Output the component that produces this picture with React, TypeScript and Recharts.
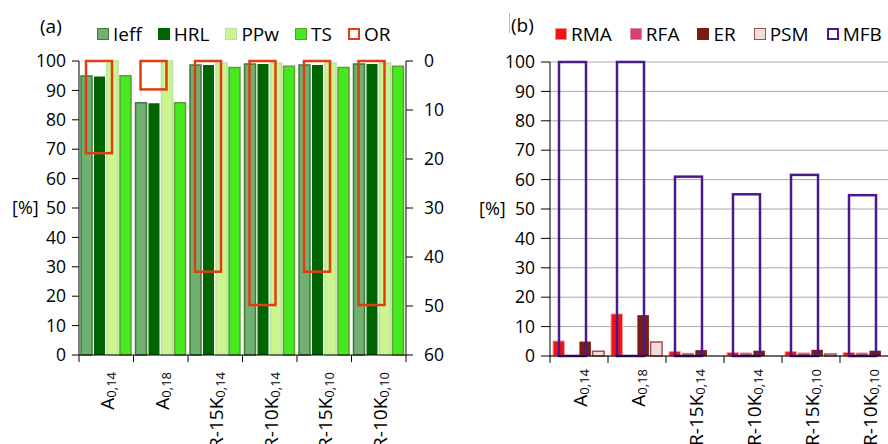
import React from 'react'
import { Bar, BarChart, CartesianGrid, XAxis, YAxis } from 'recharts'

// categories (base + subscript)
const categoryBase = ['A', 'A', 'R-15K', 'R-10K', 'R-15K', 'R-10K']
const categorySub = ['0,14', '0,18', '0,14', '0,14', '0,10', '0,10']

// (a) percentages on the left axis, OR on the reversed right axis
const ieff = [94.9, 85.8, 98.6, 99.0, 98.6, 99.0]
const hrl = [94.7, 85.6, 98.6, 99.0, 98.6, 99.0]
const ppw = [100, 100, 99.3, 99.3, 99.3, 99.3]
const ts = [95.0, 85.8, 97.8, 98.2, 97.8, 98.2]
const orValues = [18.8, 5.8, 43.0, 49.8, 43.0, 49.8]

// (b)
const rma = [5.1, 14.3, 1.5, 1.2, 1.5, 1.2]
const rfa = [0.2, 0.2, 0.9, 1.0, 1.0, 1.0]
const er = [4.9, 13.9, 2.0, 1.8, 2.1, 1.8]
const psm = [1.6, 4.8, 0, 0, 0.7, 0]
const mfb = [100, 100, 61.0, 55.0, 61.6, 54.7]

const pctTicks = [0, 10, 20, 30, 40, 50, 60, 70, 80, 90, 100]
const orTicks = [0, 10, 20, 30, 40, 50, 60]

const names = categoryBase.map((b, i) => b + categorySub[i])

const dataA = names.map((name, i) => ({
  name,
  Ieff: ieff[i],
  HRL: hrl[i],
  PPw: ppw[i],
  TS: ts[i],
  OR: orValues[i],
}))

const dataB = names.map((name, i) => ({
  name,
  RMA: rma[i],
  RFA: rfa[i],
  ER: er[i],
  PSM: psm[i],
  MFB: mfb[i],
}))

const FONT = '"Open Sans", "Noto Sans", sans-serif'
const tickStyle = { fontSize: 17.5, fill: '#000' }

// Excel draws the secondary-axis outline series a bit left of the group centre
function OutlineBar(shift: number) {
  return (props: any) => {
    const { x, y, width, height, stroke, strokeWidth } = props
    if (width == null || height == null) return null
    const top = Math.min(y, y + height)
    return (
      <rect
        x={x + shift}
        y={top}
        width={width}
        height={Math.abs(height)}
        fill="none"
        stroke={stroke}
        strokeWidth={strokeWidth}
      />
    )
  }
}

function CategoryTick(props: any) {
  const { x, y, payload, index, gap } = props
  const half = payload?.offset ?? 0
  const i = typeof index === 'number' ? index : names.indexOf(payload?.value)
  const last = i === names.length - 1
  return (
    <g>
      <line x1={x - half} x2={x - half} y1={y} y2={y + 7} stroke="#000" />
      {last && <line x1={x + half} x2={x + half} y1={y} y2={y + 7} stroke="#000" />}
      <text
        transform={`translate(${x},${y + gap}) rotate(-90)`}
        textAnchor="end"
        dy="0.42em"
        fontSize={19}
        fill="#000"
      >
        {categoryBase[i]}
        <tspan fontSize={13} dy={2}>
          {categorySub[i]}
        </tspan>
      </text>
    </g>
  )
}

type LegendItem = { label: string; fill: string; border: string; bw?: number }

const legendA: LegendItem[] = [
  { label: 'Ieff', fill: '#70b070', border: '#3f7a3f' },
  { label: 'HRL', fill: '#006400', border: '#006400' },
  { label: 'PPw', fill: '#ccf590', border: '#b4e4a4' },
  { label: 'TS', fill: '#46e81e', border: '#5f9f30' },
  { label: 'OR', fill: '#fff', border: '#e23c12', bw: 2.5 },
]

const legendB: LegendItem[] = [
  { label: 'RMA', fill: '#ef1515', border: '#f29090' },
  { label: 'RFA', fill: '#d63c78', border: '#e48aa8' },
  { label: 'ER', fill: '#7a1c14', border: '#7a1c14' },
  { label: 'PSM', fill: '#f3dcdc', border: '#a05050' },
  { label: 'MFB', fill: '#fff', border: '#4b1a8a', bw: 2.5 },
]

function Legend({ items, left, gap }: { items: LegendItem[]; left: number; gap: number }) {
  return (
    <div
      style={{
        position: 'absolute',
        left,
        top: 21,
        display: 'flex',
        alignItems: 'center',
        fontSize: 19,
        whiteSpace: 'nowrap',
      }}
    >
      {items.map((it) => (
        <div key={it.label} style={{ display: 'flex', alignItems: 'center', marginRight: gap }}>
          <span
            style={{
              display: 'inline-block',
              boxSizing: 'border-box',
              width: 12,
              height: 12,
              background: it.fill,
              border: `${it.bw ?? 1.5}px solid ${it.border}`,
              marginRight: 4,
            }}
          />
          <span>{it.label}</span>
        </div>
      ))}
    </div>
  )
}

export default function App() {
  return (
    <div
      style={{
        position: 'absolute',
        left: 0,
        top: 0,
        width: 888,
        height: 444,
        overflow: 'hidden',
        background: '#fff',
        fontFamily: FONT,
        color: '#000',
      }}
    >
      <div style={{ position: 'absolute', left: 40, top: 13, fontSize: 19 }}>(a)</div>
      <Legend items={legendA} left={97} gap={16} />

      <div style={{ position: 'absolute', left: 0, top: 0 }}>
        <BarChart
          width={460}
          height={444}
          data={dataA}
          margin={{ top: 61, right: 0, bottom: 0, left: 0 }}
          barSize={11}
          barGap={2}
        >
          <XAxis
            dataKey="name"
            height={89}
            stroke="#000"
            tickLine={false}
            tickSize={0}
            tickMargin={0}
            interval={0}
            tick={(p: any) => <CategoryTick {...p} gap={17} />}
          />
          <XAxis xAxisId="or" dataKey="name" hide />
          <YAxis
            width={79}
            domain={[0, 100]}
            ticks={pctTicks}
            interval={0}
            stroke="#000"
            tickSize={7}
            tickMargin={6}
            tick={tickStyle}
            label={{ value: '[%]', position: 'insideLeft', offset: 12, fontSize: 18, fill: '#000' }}
          />
          <YAxis
            yAxisId="r"
            orientation="right"
            width={54}
            domain={[0, 60]}
            ticks={orTicks}
            interval={0}
            reversed
            stroke="#000"
            tickSize={7}
            tickMargin={11}
            tick={tickStyle}
          />
          <Bar dataKey="Ieff" fill="#70b070" stroke="#3f7a3f" strokeWidth={1.5} isAnimationActive={false} />
          <Bar dataKey="HRL" fill="#006400" isAnimationActive={false} />
          <Bar dataKey="PPw" fill="#ccf590" stroke="#b4e4a4" strokeWidth={1.5} isAnimationActive={false} />
          <Bar dataKey="TS" fill="#46e81e" stroke="#5f9f30" strokeWidth={1.5} isAnimationActive={false} />
          <Bar
            xAxisId="or"
            yAxisId="r"
            dataKey="OR"
            barSize={26}
            stroke="#e23c12"
            strokeWidth={2.5}
            shape={OutlineBar(-7)}
            isAnimationActive={false}
          />
        </BarChart>
      </div>

      <div
        style={{ position: 'absolute', left: 509, top: 13, width: 1, height: 20, background: '#b8b8b8' }}
      />
      <div style={{ position: 'absolute', left: 511, top: 12, fontSize: 19 }}>(b)</div>
      <Legend items={legendB} left={555} gap={18} />

      <div style={{ position: 'absolute', left: 440, top: 0 }}>
        <BarChart
          width={470}
          height={444}
          data={dataB}
          margin={{ top: 62, right: 12, bottom: 0, left: 0 }}
          barSize={11.5}
          barGap={1.7}
        >
          <CartesianGrid vertical={false} stroke="#a8a8a8" />
          <XAxis
            dataKey="name"
            height={88}
            stroke="#000"
            tickLine={false}
            tickSize={0}
            tickMargin={0}
            interval={0}
            tick={(p: any) => <CategoryTick {...p} gap={13} />}
          />
          <XAxis xAxisId="mfb" dataKey="name" hide />
          <YAxis
            width={110}
            domain={[0, 100]}
            ticks={pctTicks}
            interval={0}
            stroke="#000"
            tickSize={9}
            tickMargin={6}
            tick={tickStyle}
            label={{ value: '[%]', position: 'insideLeft', offset: 39, fontSize: 18, fill: '#000' }}
          />
          <Bar dataKey="RMA" fill="#ef1515" stroke="#f5a0a0" strokeWidth={1} isAnimationActive={false} />
          <Bar dataKey="RFA" fill="#b8566a" stroke="#c98090" strokeWidth={1} isAnimationActive={false} />
          <Bar dataKey="ER" fill="#7a1c14" isAnimationActive={false} />
          <Bar dataKey="PSM" fill="#f3dcdc" stroke="#a05050" strokeWidth={1.5} isAnimationActive={false} />
          <Bar
            xAxisId="mfb"
            dataKey="MFB"
            barSize={27}
            stroke="#4b1a8a"
            strokeWidth={2.5}
            shape={OutlineBar(-7)}
            isAnimationActive={false}
          />
        </BarChart>
      </div>
    </div>
  )
}
